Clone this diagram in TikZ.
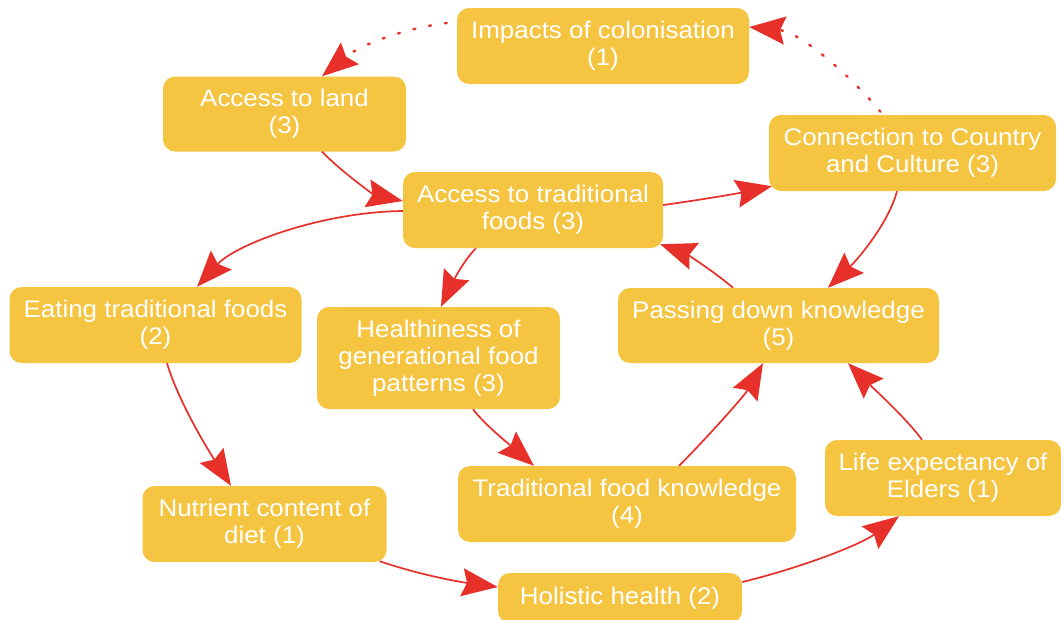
\documentclass[tikz,border=0pt]{standalone}
\usepackage{fontspec}
\setmainfont{Liberation Sans}[FakeStretch=1.08]
\usetikzlibrary{arrows.meta,calc}
\definecolor{boxc}{HTML}{F5C542}
\definecolor{edgec}{HTML}{E8302A}
\begin{document}
\begin{tikzpicture}[x=1pt,y=-1pt,
  box/.style={fill=boxc, rounded corners=12pt, text=white, align=center,
    font=\fontsize{24}{27}\selectfont, inner sep=0pt},
  edge/.style={draw=edgec, line width=1.7pt, -{Stealth[length=36pt 0,width=28pt 0,inset=5pt 0]}},
  dotedge/.style={edge, dash pattern=on 2pt off 14pt, line cap=round, line width=2.4pt}]
\useasboundingbox (0,0) rectangle (1061,619);

\node[box, minimum width=292pt, minimum height=76pt] (imp) at (603,46) {Impacts of colonisation\\(1)};
\node[box, minimum width=243pt, minimum height=75pt] (land) at (284.5,114) {Access to land\\(3)};
\node[box, minimum width=260pt, minimum height=76pt] (atf) at (533,210) {Access to traditional\\foods (3)};
\node[box, minimum width=287pt, minimum height=76pt] (conn) at (912.5,153) {Connection to Country\\and Culture (3)};
\node[box, minimum width=292pt, minimum height=76pt] (eat) at (155.5,325) {Eating traditional foods\\(2)};
\node[box, minimum width=243pt, minimum height=102pt] (health) at (438.5,358) {Healthiness of\\generational food\\patterns (3)};
\node[box, minimum width=321pt, minimum height=75pt] (pass) at (778.5,325.5) {Passing down knowledge\\(5)};
\node[box, minimum width=244pt, minimum height=76pt] (nutr) at (264.5,524) {Nutrient content of\\diet (1)};
\node[box, minimum width=338pt, minimum height=76pt] (tfk) at (627,504) {Traditional food knowledge\\(4)};
\node[box, minimum width=236pt, minimum height=76pt] (life) at (943,478) {Life expectancy of\\Elders (1)};
\node[box, minimum width=244pt, minimum height=50pt] (hol) at (620,598) {Holistic health (2)};

\draw[dotedge] ($(imp.west)+(-10,-23)$) .. controls (405,28) and (360,45) .. ($(land.north)+(37.5,0)$);
\draw[dotedge] ($(conn.north)+(-32,-3)$) .. controls (850,75) and (800,32) .. ($(imp.east)+(0,-19)$);
\draw[edge] ($(land.south)+(37.5,0)$) .. controls (345,175) and (375,195) .. ($(atf.west)+(0,-9)$);
\draw[edge] ($(atf.east)+(0,-5)$) .. controls (700,200) and (740,193) .. ($(conn.south west)+(3,-5)$);
\draw[edge] ($(atf.west)+(0,1)$) .. controls (320,212) and (235,245) .. ($(eat.north)+(41.5,0)$);
\draw[edge] ($(atf.south)+(-57,0)$) .. controls (462,262) and (450,288) .. ($(health.north)+(2.5,0)$);
\draw[edge] ($(conn.south)+(-15.5,0)$) .. controls (888,225) and (855,262) .. ($(pass.north)+(49.5,0)$);
\draw[edge] ($(pass.north)+(-45.5,0)$) .. controls (710,268) and (682,252) .. ($(atf.south east)+(-3,-4)$);
\draw[edge] ($(eat.south)+(11.5,0)$) .. controls (178,400) and (205,445) .. ($(nutr.north)+(-33.5,0)$);
\draw[edge] ($(health.south)+(34.5,0)$) .. controls (485,425) and (510,445) .. ($(tfk.north)+(-93,0)$);
\draw[edge] ($(tfk.north)+(52,0)$) .. controls (705,440) and (745,395) .. ($(pass.south)+(-15.5,0)$);
\draw[edge] ($(life.north)+(-21,0)$) .. controls (908,420) and (870,385) .. ($(pass.south)+(69.5,0)$);
\draw[edge] ($(nutr.south east)+(-7,-1)$) .. controls (420,575) and (460,582) .. ($(hol.west)+(0,-11)$);
\draw[edge] ($(hol.east)+(0,-16)$) .. controls (800,568) and (860,545) .. ($(life.south)+(-44,0)$);
\end{tikzpicture}
\end{document}
